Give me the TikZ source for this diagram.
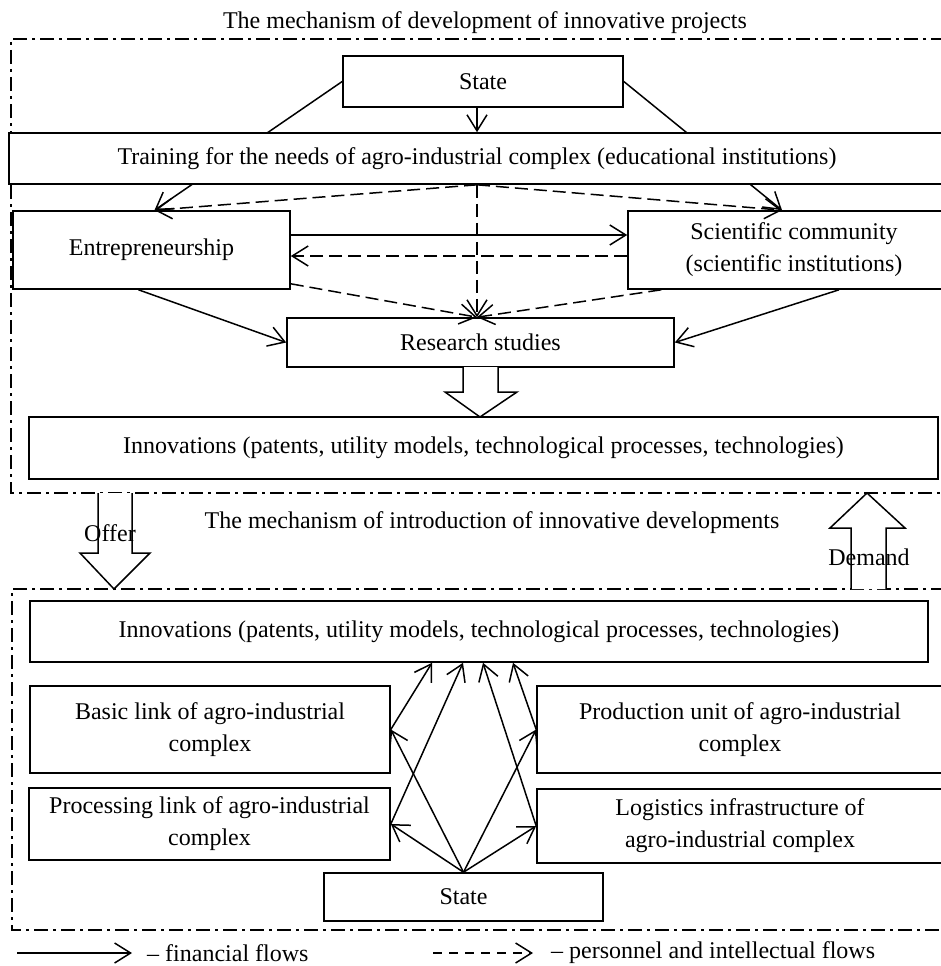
\documentclass[tikz,border=0pt]{standalone}
\usepackage{fontspec}
\setmainfont{Liberation Serif}
\usetikzlibrary{arrows.meta,backgrounds}
\begin{document}
\begin{tikzpicture}[x=1pt,y=-1pt,
  every node/.style={font=\fontsize{24}{32}\selectfont},
  box/.style={draw,line width=1.6pt,fill=white,inner sep=0pt,align=center},
  arr/.style={line width=1.5pt,-{Straight Barb[length=16pt,width=20pt,line width=1.5pt]}},
  darr/.style={arr,dash pattern=on 13pt off 6pt},
  legdarr/.style={arr,dash pattern=on 9pt off 7pt},
  frame/.style={line width=1.5pt,dash pattern=on 14pt off 5pt on 3pt off 5pt},
  blk/.style={draw,line width=1.5pt,fill=white,line join=miter},
]
\useasboundingbox (0,0) rectangle (940,966);

% titles
\node (t1) at (485,23) {The mechanism of development of innovative projects};
\node (t2) at (492,523) {The mechanism of introduction of innovative developments};

% frames
\draw[frame] (945,39) -- (11,39) -- (11,493) -- (945,493);
\draw[frame] (945,589) -- (12,589) -- (12,930) -- (945,930);

% upper boxes
\node[box,minimum width=280pt,minimum height=51pt] (stT) at (483,81.5) {State};
\node[box,minimum width=936pt,minimum height=51pt] (train) at (477,158.5) {Training for the needs of agro-industrial complex (educational institutions)};
\node[box,minimum width=277pt,minimum height=78pt] (entre) at (151.5,250) {Entrepreneurship};
\node[box,minimum width=332pt,minimum height=78pt] (sci) at (794,250) {Scientific community\\(scientific institutions)};
\node[box,minimum width=387pt,minimum height=49pt] (res) at (480.5,342.5) {Research studies};
\node[box,minimum width=909pt,minimum height=62pt] (inn1) at (483.5,448) {Innovations (patents, utility models, technological processes, technologies)};

\coordinate (eT) at ([xshift=3pt]entre.north);
\coordinate (sT) at ([xshift=-12pt]sci.north);
\coordinate (rT) at (train.south |- res.north);

% State -> Entrepreneurship / Scientific community (behind Training box)
\begin{scope}[on background layer]
\draw[arr] (stT.west) -- (eT);
\draw[arr] (stT.east) -- (sT);
\end{scope}
\draw[arr] (stT.south -| train.north) -- (train.north);

% dashed from Training
\draw[darr] (train.south) -- (eT);
\draw[darr] (train.south) -- (sT);
\draw[darr] (train.south) -- (rT);

% between Entrepreneurship and Scientific community
\draw[arr] ([yshift=15pt]entre.east) -- ([yshift=15pt]entre.east -| sci.west);
\draw[darr] ([yshift=-6pt]sci.west) -- ([yshift=-6pt]sci.west -| entre.east);

% to Research studies
\draw[darr] ([yshift=6pt]entre.south east) -- (rT);
\draw[darr] ([xshift=34pt]sci.south west) -- (rT);
\draw[arr] ([xshift=-13pt]entre.south) -- (res.west);
\draw[arr] ([xshift=45pt]sci.south) -- (res.east);

% block arrow Research -> Innovations
\draw[blk] (463,367) -- (463,392) -- (445,392) -- (480,417) -- (517,392) -- (498,392) -- (498,367);

% Offer / Demand block arrows
\draw[blk] (98,493) -- (98,553) -- (80,553) -- (114,589) -- (150,553) -- (132,553) -- (132,493);
\draw[blk] (851,589) -- (851,528) -- (830,528) -- (867,493) -- (905,528) -- (886,528) -- (886,589);
\node (offer) at (110,533) {Offer};
\node (demand) at (869,557) {Demand};

% lower boxes
\node[box,minimum width=898pt,minimum height=61pt] (inn2) at (479,631.5) {Innovations (patents, utility models, technological processes, technologies)};
\node[box,minimum width=360pt,minimum height=87pt] (basic) at (210,729.5) {Basic link of agro-industrial\\complex};
\node[box,minimum width=361pt,minimum height=72pt] (proc) at (209.5,824) {Processing link of agro-industrial\\complex};
\node[box,minimum width=406pt,minimum height=87pt] (prod) at (740,729.5) {Production unit of agro-industrial\\complex};
\node[box,minimum width=406pt,minimum height=74pt] (logi) at (740,826) {Logistics infrastructure of\\agro-industrial complex};
\node[box,minimum width=279pt,minimum height=48pt] (stB) at (463.5,897) {State};

% lower arrows
\draw[arr] (stB.north) -- (basic.east);
\draw[arr] (stB.north) -- (proc.east);
\draw[arr] (stB.north) -- (prod.west);
\draw[arr] (stB.north) -- (logi.west);
\draw[arr] (basic.east) -- (432,0 |- inn2.south);
\draw[arr] (proc.east) -- (463,0 |- inn2.south);
\draw[arr] (logi.west) -- (483,0 |- inn2.south);
\draw[arr] (prod.west) -- (513,0 |- inn2.south);

% legend
\coordinate (la) at (17,953);
\coordinate (lb) at (132,953);
\draw[arr] (la) -- (lb);
\node[anchor=west,inner sep=0pt] (lt1) at (147,953) {-- financial flows};
\coordinate (lc) at (433,953);
\coordinate (ld) at (533,953);
\draw[legdarr] (lc) -- (ld);
\node[anchor=west,inner sep=0pt] (lt2) at (551,953) {-- personnel and intellectual flows};
\end{tikzpicture}
\end{document}
